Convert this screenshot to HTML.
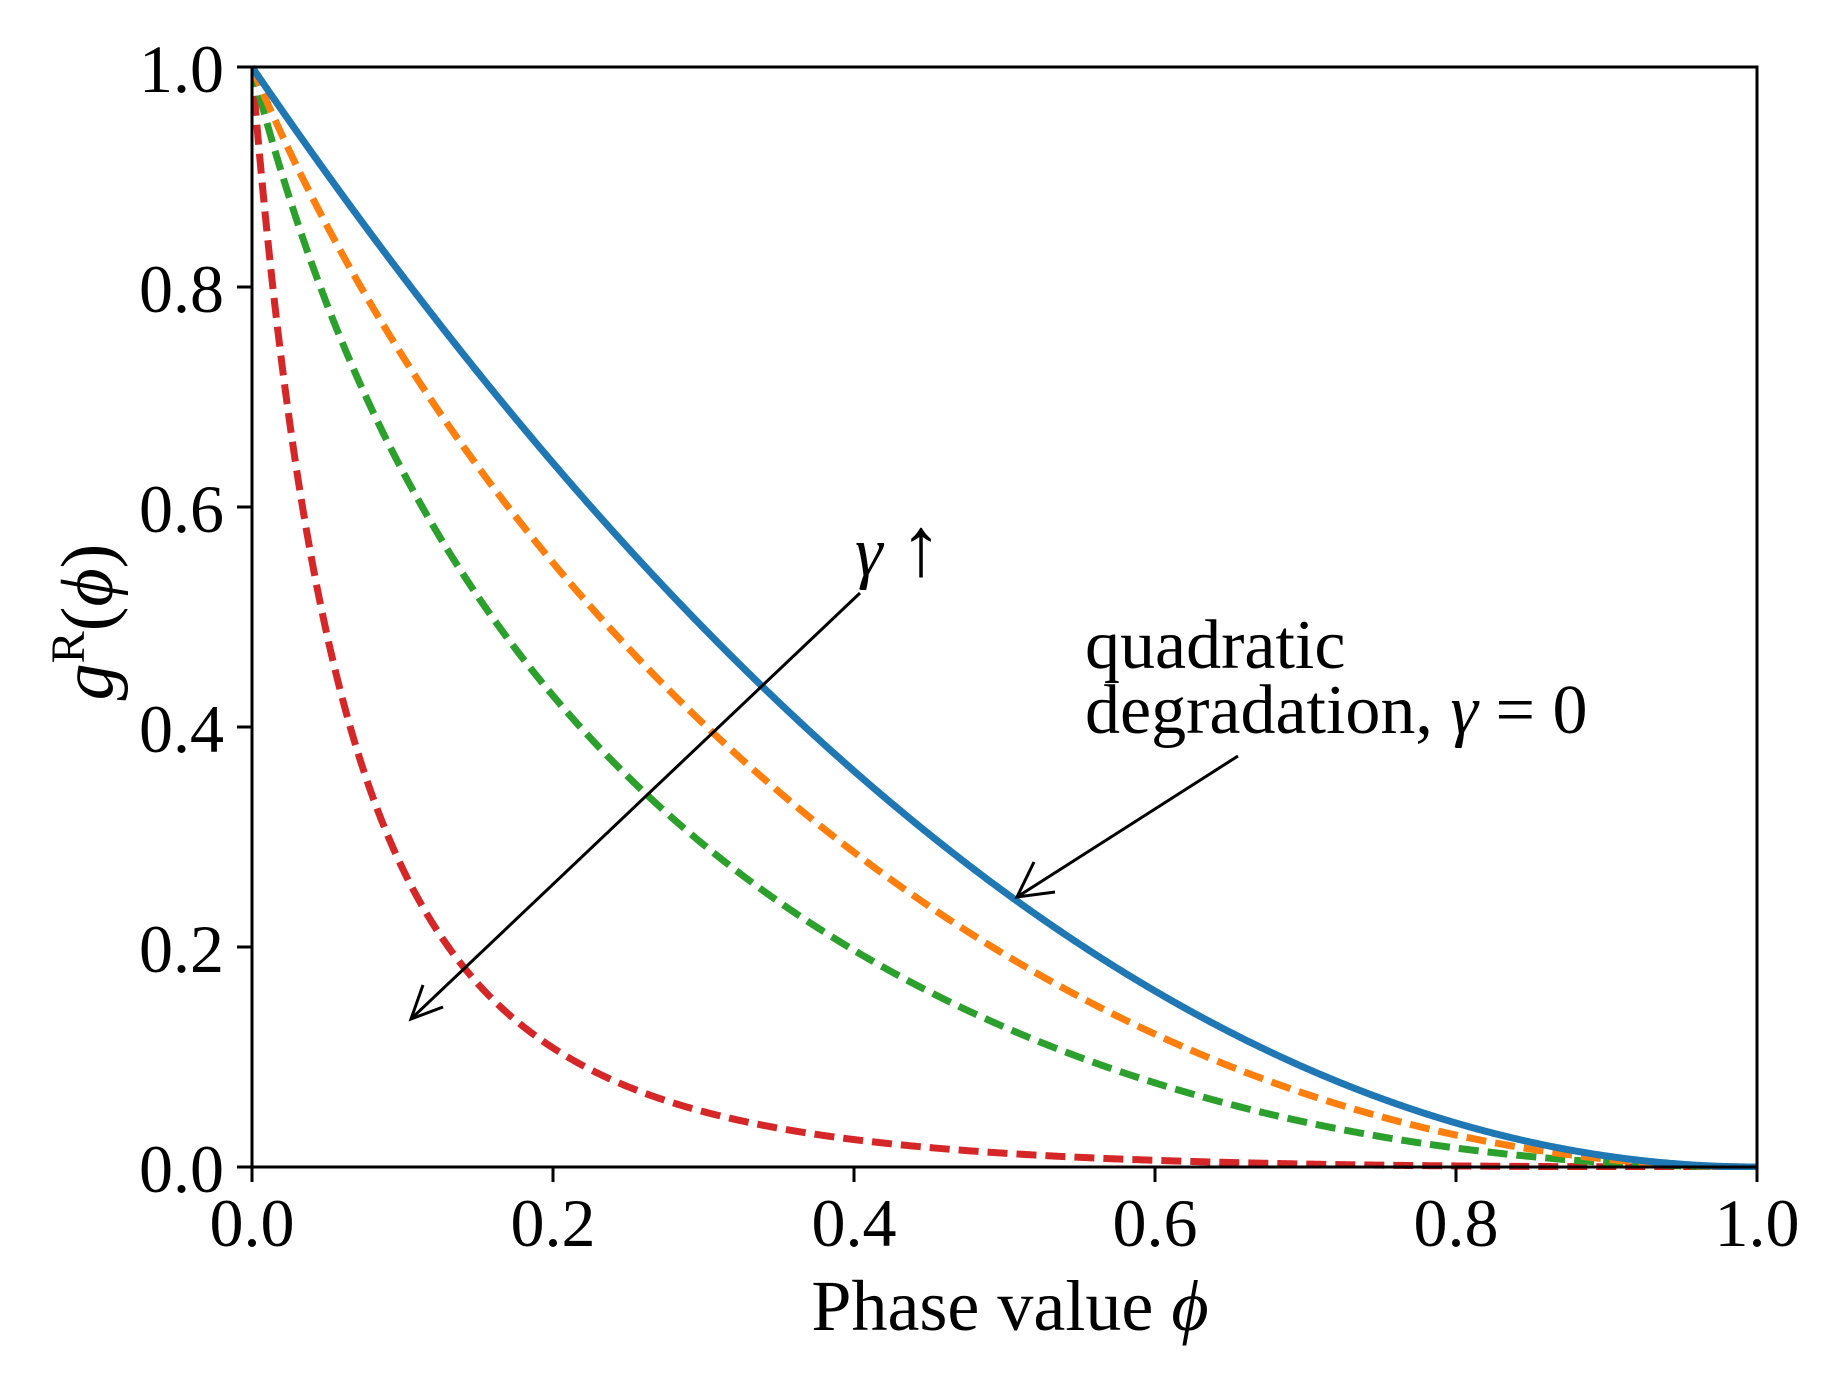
<!DOCTYPE html>
<html><head><meta charset="utf-8"><style>
html,body{margin:0;padding:0;background:#fff;}
svg text{font-family:"Liberation Serif",serif;fill:#000;}
</style></head><body>
<svg width="1843" height="1382" viewBox="0 0 1843 1382" xmlns="http://www.w3.org/2000/svg">
<rect width="1843" height="1382" fill="#fff"/>
<defs><clipPath id="c"><rect x="252" y="60" width="1510" height="1110"/></clipPath></defs>
<g id="curves" clip-path="url(#c)" fill="none" stroke-width="7"></g>
<rect x="252" y="67" width="1505" height="1100" fill="none" stroke="#000" stroke-width="3"/>
<g stroke="#000" stroke-width="3">
<line x1="252" y1="1167" x2="252" y2="1182"/><line x1="553" y1="1167" x2="553" y2="1182"/><line x1="854" y1="1167" x2="854" y2="1182"/><line x1="1155" y1="1167" x2="1155" y2="1182"/><line x1="1456" y1="1167" x2="1456" y2="1182"/><line x1="1757" y1="1167" x2="1757" y2="1182"/>
<line x1="237" y1="1167" x2="252" y2="1167"/><line x1="237" y1="947" x2="252" y2="947"/><line x1="237" y1="727" x2="252" y2="727"/><line x1="237" y1="507" x2="252" y2="507"/><line x1="237" y1="287" x2="252" y2="287"/><line x1="237" y1="67" x2="252" y2="67"/>
</g>
<g font-size="68" text-anchor="middle">
<text x="252" y="1246">0.0</text><text x="553" y="1246">0.2</text><text x="854" y="1246">0.4</text><text x="1155" y="1246">0.6</text><text x="1456" y="1246">0.8</text><text x="1757" y="1246">1.0</text>
</g>
<g font-size="68" text-anchor="end">
<text x="224" y="1192">0.0</text><text x="224" y="972">0.2</text><text x="224" y="752">0.4</text><text x="224" y="532">0.6</text><text x="224" y="312">0.8</text><text x="224" y="92">1.0</text>
</g>
<text x="1010" y="1330" font-size="72" text-anchor="middle">Phase value <tspan font-style="italic">ϕ</tspan></text>
<text transform="translate(112,622) rotate(-90)" font-size="74" text-anchor="middle"><tspan font-style="italic">g</tspan><tspan font-size="48" dy="-28">R</tspan><tspan dy="28">(</tspan><tspan font-style="italic">ϕ</tspan>)</text>
<text x="1085" y="668" font-size="70">quadratic</text>
<text x="1085" y="733" font-size="70">degradation, <tspan font-style="italic">γ</tspan>  =  0</text>
<text x="855" y="575" font-size="70"><tspan font-style="italic">γ</tspan> <tspan font-size="84">↑</tspan></text>
<g stroke="#000" stroke-width="3" fill="none">
<line x1="860" y1="593" x2="411" y2="1019"/>
<polyline points="423,985 411,1019 443,1007"/>
<line x1="1238" y1="756" x2="1017" y2="897"/>
<polyline points="1034,862 1017,897 1055,892"/>
</g>
</svg>
<script>
(function(){
var g=document.getElementById('curves');
var L=252,R=1757,T=67,B=1167;
function X(p){return L+p*(R-L);} function Y(v){return B-v*(B-T);}
function mk(k){return function(p){return (1-p)*(1-p)/Math.pow(1+8*p,k);};}
var fs=[[mk(1.86),'#d62728',true],[mk(0.42),'#2ca02c',true],[mk(0.16),'#ff7f0e',true],[mk(0),'#1f77b4',false]];
fs.forEach(function(f){
 var d='';
 for(var i=0;i<=1000;i++){var p=i/1000;d+=(i?'L':'M')+X(p).toFixed(2)+','+Y(f[0](p)).toFixed(2);}
 var e=document.createElementNS('http://www.w3.org/2000/svg','path');
 e.setAttribute('d',d);e.setAttribute('stroke',f[1]);
 if(f[2])e.setAttribute('stroke-dasharray','20,9');
 g.appendChild(e);
});
})();
</script>
</body></html>
